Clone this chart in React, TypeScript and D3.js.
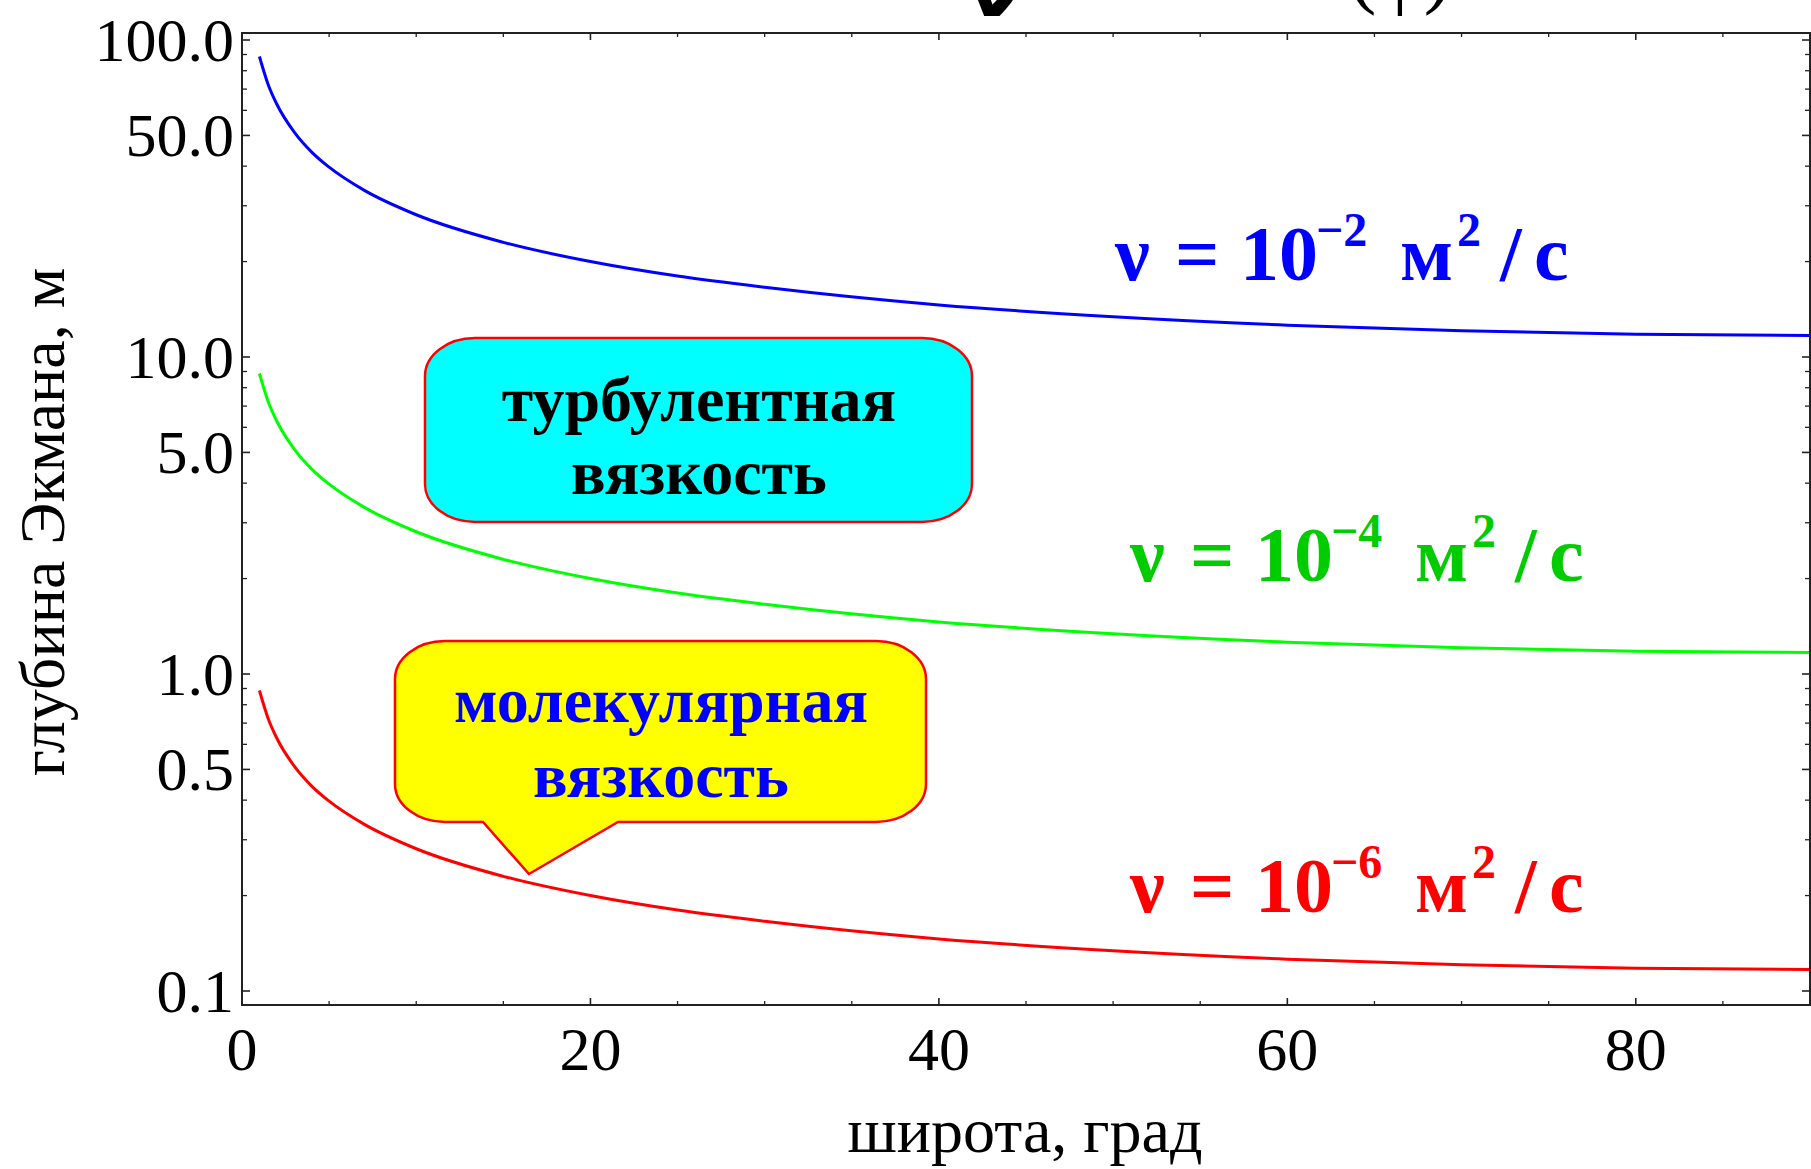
import React from 'react';
import * as d3 from 'd3';

// latitude, degrees
const latitudes = [1, 1.5, 2, 3, 4, 5, 7, 10, 15, 20, 25, 30, 40, 50, 60, 70, 80, 90];
// Ekman depth, m
const depthNu2 = [88.7, 72.4, 62.7, 51.2, 44.3, 39.7, 33.6, 28.1, 23.0, 20.0, 18.0, 16.6, 14.6, 13.4, 12.6, 12.1, 11.8, 11.7];
const depthNu4 = [8.87, 7.24, 6.27, 5.12, 4.43, 3.97, 3.36, 2.81, 2.30, 2.00, 1.80, 1.66, 1.46, 1.34, 1.26, 1.21, 1.18, 1.17];
const depthNu6 = [0.887, 0.724, 0.627, 0.512, 0.443, 0.397, 0.336, 0.281, 0.230, 0.200, 0.180, 0.166, 0.146, 0.134, 0.126, 0.121, 0.118, 0.117];

const xTicks = [0, 20, 40, 60, 80];
const xMinorTicks = [5, 10, 15, 25, 30, 35, 45, 50, 55, 65, 70, 75, 85];
const yTicks = [0.1, 0.5, 1, 5, 10, 50, 100];
const yTickLabels = ['0.1', '0.5', '1.0', '5.0', '10.0', '50.0', '100.0'];
const yMinorTicks = [0.2, 0.3, 0.4, 0.6, 0.7, 0.8, 0.9, 2, 3, 4, 6, 7, 8, 9, 20, 30, 40, 60, 70, 80, 90];

const series = [
  { values: depthNu2, color: '#0000ff', labelColor: '#0000ff', exp: '\u22122' },
  { values: depthNu4, color: '#00ff00', labelColor: '#00cc00', exp: '\u22124' },
  { values: depthNu6, color: '#ff0000', labelColor: '#ff0000', exp: '\u22126' },
];

const W = 1811;
const H = 1169;
const frame = { left: 242, right: 1810, top: 33, bottom: 1005 };
const serif = '"Liberation Serif", "Times New Roman", serif';

function roundedBox(x0, y0, x1, y1, rx, ry, tail) {
  let p = `M${x0 + rx},${y0} L${x1 - rx},${y0} A${rx},${ry} 0 0 1 ${x1},${y0 + ry} `;
  p += `L${x1},${y1 - ry} A${rx},${ry} 0 0 1 ${x1 - rx},${y1} `;
  if (tail) {
    p += `L${tail.right},${y1} L${tail.tipX},${tail.tipY} L${tail.left},${y1} `;
  }
  p += `L${x0 + rx},${y1} A${rx},${ry} 0 0 1 ${x0},${y1 - ry} L${x0},${y0 + ry} A${rx},${ry} 0 0 1 ${x0 + rx},${y0} Z`;
  return p;
}

const App = () => {
  const x = d3.scaleLinear().domain([0, 90]).range([frame.left, frame.right]);
  const y = d3.scaleLog().domain([0.1, 100]).range([991, 40]);

  const line = d3.line<number>()
    .x((_, i) => x(latitudes[i]))
    .y(d => y(d))
    .curve(d3.curveMonotoneX);

  const labelBase = [280, 581, 912];
  const labelShift = [0, 15, 15];

  return (
    <svg width={W} height={H} style={{ position: 'absolute', left: 0, top: 0, background: '#fff' }}>
      <rect x={0} y={0} width={W} height={H} fill="#fff" />

      {/* title, cut off at the top edge as in the original */}
      <text x={993} y={16} fontFamily="DejaVu Sans" fontWeight="bold" fontSize={80} textAnchor="middle" fill="#000">ν</text>
      <text x={1400} y={-2} fontFamily={serif} fontSize={82} textAnchor="middle" fill="#000">(φ)</text>

      {series.map((s, i) => (
        <path key={i} d={line(s.values) || ''} fill="none" stroke={s.color} strokeWidth={3} />
      ))}

      {/* frame */}
      <rect x={frame.left} y={frame.top} width={frame.right - frame.left} height={frame.bottom - frame.top}
        fill="none" stroke="#222" strokeWidth={2} />

      {xTicks.map(t => (
        <g key={'x' + t}>
          <line x1={x(t)} x2={x(t)} y1={frame.bottom} y2={frame.bottom - 7} stroke="#222" strokeWidth={1.6} />
          <line x1={x(t)} x2={x(t)} y1={frame.top} y2={frame.top + 7} stroke="#222" strokeWidth={1.6} />
          <text x={x(t)} y={1070} fontFamily={serif} fontSize={62} textAnchor="middle" fill="#000">{t}</text>
        </g>
      ))}
      {xMinorTicks.map(t => (
        <g key={'xm' + t}>
          <line x1={x(t)} x2={x(t)} y1={frame.bottom} y2={frame.bottom - 4} stroke="#222" strokeWidth={1.3} />
          <line x1={x(t)} x2={x(t)} y1={frame.top} y2={frame.top + 4} stroke="#222" strokeWidth={1.3} />
        </g>
      ))}
      {yTicks.map((t, i) => (
        <g key={'y' + t}>
          <line x1={frame.left} x2={frame.left + 8} y1={y(t)} y2={y(t)} stroke="#222" strokeWidth={1.6} />
          <line x1={frame.right} x2={frame.right - 8} y1={y(t)} y2={y(t)} stroke="#222" strokeWidth={1.6} />
          <text x={234} y={y(t) + 21} fontFamily={serif} fontSize={62} textAnchor="end" fill="#000">{yTickLabels[i]}</text>
        </g>
      ))}
      {yMinorTicks.map(t => (
        <g key={'ym' + t}>
          <line x1={frame.left} x2={frame.left + 5} y1={y(t)} y2={y(t)} stroke="#222" strokeWidth={1.3} />
          <line x1={frame.right} x2={frame.right - 5} y1={y(t)} y2={y(t)} stroke="#222" strokeWidth={1.3} />
        </g>
      ))}

      <text x={1025} y={1152} fontFamily={serif} fontSize={64} textAnchor="middle" fill="#000">широта, град</text>
      <text transform="translate(64,522) rotate(-90)" fontFamily={serif} fontSize={64} textAnchor="middle" fill="#000">глубина Экмана, м</text>

      {/* viscosity labels */}
      {series.map((s, i) => {
        const dx = labelShift[i];
        const b = labelBase[i];
        return (
          <text key={'lab' + i} y={b} fontFamily={serif} fontWeight="bold" fontSize={78} fill={s.labelColor}>
            <tspan x={1115 + dx} y={b}>ν</tspan>
            <tspan x={1175 + dx} y={b}>=</tspan>
            <tspan x={1240 + dx} y={b}>10</tspan>
            <tspan x={1316 + dx} y={b - 34} fontSize={48}>{s.exp}</tspan>
            <tspan x={1400 + dx} y={b}>м</tspan>
            <tspan x={1457 + dx} y={b - 34} fontSize={48}>2</tspan>
            <tspan x={1500 + dx} y={b}>/</tspan>
            <tspan x={1534 + dx} y={b}>с</tspan>
          </text>
        );
      })}

      {/* turbulent box */}
      <path d={roundedBox(425, 338, 972, 522, 50, 38, null)} fill="#00ffff" stroke="#ff0000" strokeWidth={2.5} />
      <text x={699} y={421} fontFamily={serif} fontWeight="bold" fontSize={64} textAnchor="middle" fill="#000">турбулентная</text>
      <text x={699} y={494} fontFamily={serif} fontWeight="bold" fontSize={64} textAnchor="middle" fill="#000">вязкость</text>

      {/* molecular callout */}
      <path d={roundedBox(395, 641, 926, 822, 50, 38, { left: 483, right: 618, tipX: 529, tipY: 874 })}
        fill="#ffff00" stroke="#ff0000" strokeWidth={2.5} />
      <text x={661} y={722} fontFamily={serif} fontWeight="bold" fontSize={64} textAnchor="middle" fill="#0000ff">молекулярная</text>
      <text x={661} y={797} fontFamily={serif} fontWeight="bold" fontSize={64} textAnchor="middle" fill="#0000ff">вязкость</text>
    </svg>
  );
};

export default App;
